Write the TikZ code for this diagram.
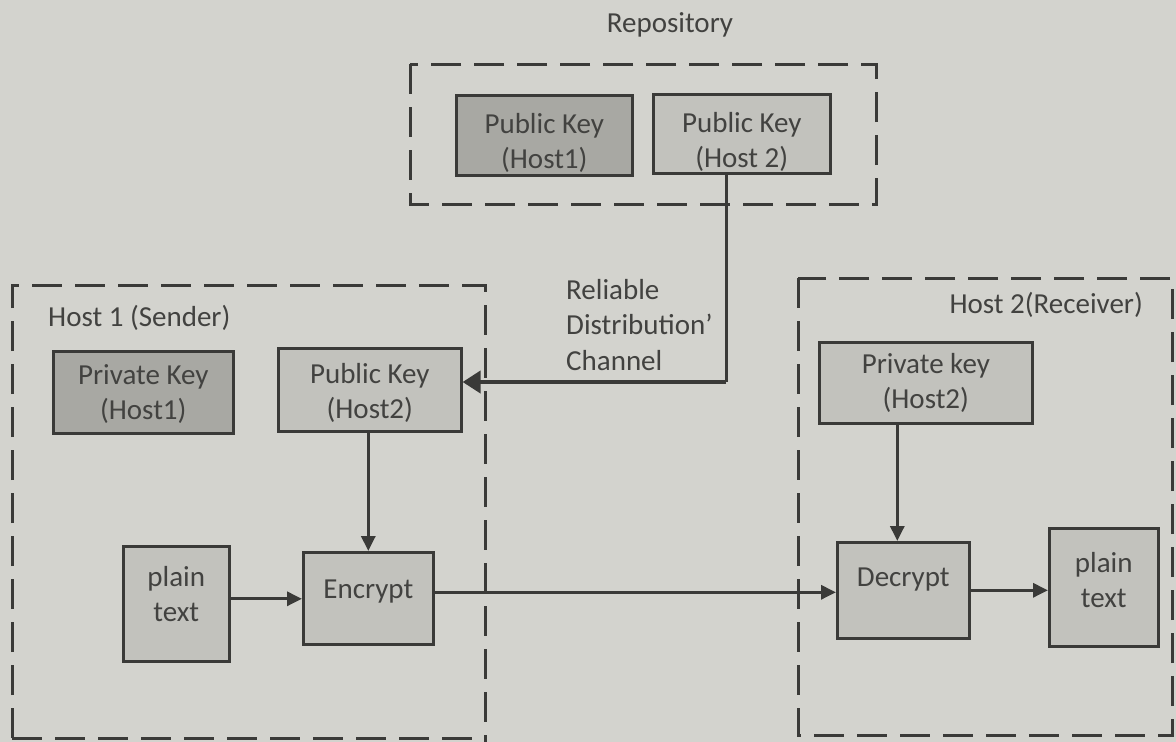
\documentclass[tikz,border=0pt]{standalone}
\usepackage{fontspec}
\setmainfont{Carlito}
\usetikzlibrary{arrows.meta}
\definecolor{paper}{RGB}{211,211,206}
\definecolor{ink}{RGB}{58,58,56}
\definecolor{txt}{RGB}{66,66,64}
\definecolor{darkfill}{RGB}{168,168,163}
\definecolor{lightfill}{RGB}{194,194,189}
\tikzset{
  keybox/.style={draw=ink, line width=2.6pt, fill=lightfill, anchor=north west, inner sep=0pt},
  darkbox/.style={keybox, fill=darkfill},
  boxtext/.style={inner sep=0pt, align=center, text=txt, font=\fontsize{29}{35}\selectfont},
  group/.style={draw=ink, line width=3pt, dash pattern=on 30pt off 13pt},
  label/.style={text=txt, font=\fontsize{29}{35.5}\selectfont, inner sep=0pt},
  flow/.style={draw=ink, line width=3pt, -{Triangle[length=15pt,width=14pt]}},
  feed/.style={draw=ink, line width=4pt, -{Triangle[length=18pt,width=22pt]}}
}
\begin{document}
\begin{tikzpicture}[x=1pt,y=-1pt]
  \fill[paper] (0,0) rectangle (1176,742);
  \useasboundingbox (0,0) rectangle (1176,742);

  % repository
  \node[label] (repo) at (670,25) {Repository};
  \draw[group] (410,64) rectangle (876,204);
  \node[darkbox, minimum width=176pt, minimum height=80pt] (rk1) at (455,94) {};
  \node[boxtext] (rk1t) at ([shift={(0,8)}]rk1.center) {Public Key\\(Host1)};
  \node[keybox, minimum width=177pt, minimum height=79pt] (rk2) at (652,93) {};
  \node[boxtext] (rk2t) at ([shift={(0,8)}]rk2.center) {Public Key\\(Host 2)};

  % host 1 (sender)
  \draw[group] (12,738) -- (12,285) -- (485,285) -- (485,742);
  \draw[group] (12,738) -- (485,738);
  \node[label, anchor=west] (h1) at (48,318) {Host 1 (Sender)};
  \node[darkbox, minimum width=180pt, minimum height=82pt] (sk1) at (52,350) {};
  \node[boxtext] (sk1t) at ([shift={(0,2)}]sk1.center) {Private Key\\(Host1)};
  \node[keybox, minimum width=183pt, minimum height=83pt] (pk2) at (277,347) {};
  \node[boxtext] (pk2t) at ([shift={(0,3)}]pk2.center) {Public Key\\(Host2)};
  \node[keybox, minimum width=106pt, minimum height=115pt] (pt1) at (122,545) {};
  \node[boxtext] (pt1t) at ([shift={(0,-10)}]pt1.center) {plain\\text};
  \node[keybox, minimum width=130pt, minimum height=92pt] (enc) at (302,551) {};
  \node[boxtext] (enct) at ([shift={(0,-7)}]enc.center) {Encrypt};

  % host 2 (receiver)
  \draw[group] (798,278) rectangle (1172,735);
  \node[label, anchor=east] (h2) at (1143,305) {Host 2(Receiver)};
  \node[keybox, minimum width=213pt, minimum height=81pt] (sk2) at (818,341) {};
  \node[boxtext] (sk2t) at (sk2.center) {Private key\\(Host2)};
  \node[keybox, minimum width=132pt, minimum height=96pt] (dec) at (836,541) {};
  \node[boxtext] (dect) at ([shift={(0,-11)}]dec.center) {Decrypt};
  \node[keybox, minimum width=109pt, minimum height=118pt] (pt2) at (1048,527) {};
  \node[boxtext] (pt2t) at ([shift={(0,-7)}]pt2.center) {plain\\text};

  % distribution channel
  \node[label, anchor=north west, align=left] (chan) at (566,279) {Reliable\\Distribution'\\Channel};
  \coordinate (turn) at (726,382);
  \draw[draw=ink, line width=3pt] (rk2.south -| turn) -- (turn);
  \draw[feed] (turn) -- (turn -| pk2.east);

  % message flow
  \draw[flow] (pk2.south -| enc.north) -- (enc.north);
  \draw[flow] ([shift={(0,-5)}]pt1.east) -- ([shift={(0,-5)}]pt1.east -| enc.west);
  \draw[flow] ([shift={(0,-6)}]enc.east) -- ([shift={(0,-6)}]enc.east -| dec.west);
  \draw[flow] ([shift={(-6,0)}]dec.north |- sk2.south) -- ([shift={(-6,0)}]dec.north);
  \draw[flow] (dec.east) -- (dec.east -| pt2.west);
\end{tikzpicture}
\end{document}
